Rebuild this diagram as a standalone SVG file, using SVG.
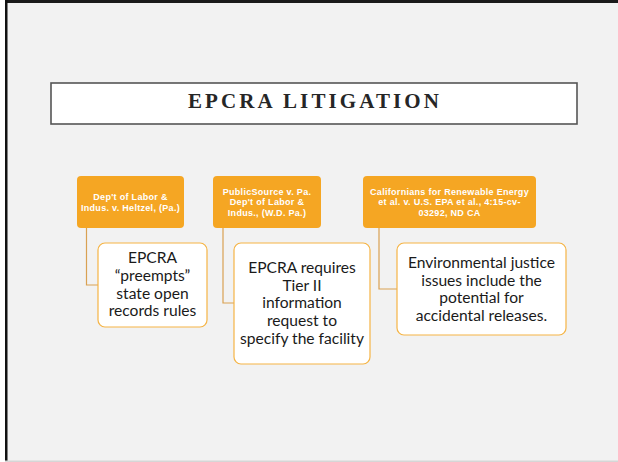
<svg xmlns="http://www.w3.org/2000/svg" width="618" height="462" viewBox="0 0 618 462">
  <style>
    .head { fill: #F5A623; }
    .head-t { font-family: "Liberation Sans", Arial, sans-serif; font-weight: bold; font-size: 9px; letter-spacing: 0.3px; fill: #ffffff; text-anchor: middle; }
    .card { fill: #ffffff; stroke: #F5B445; stroke-width: 1.2; }
    .card-t { font-family: Lato, "Open Sans", sans-serif; font-size: 15.6px; fill: #1a1a1a; text-anchor: middle; }
    .link { fill: none; stroke: #D9A152; stroke-width: 1.2; }
  </style>

  <!-- slide background and frame -->
  <rect x="0" y="0" width="618" height="462" fill="#ffffff"/>
  <rect x="5" y="0" width="613" height="462" fill="#f2f2f2"/>
  <rect x="5" y="0" width="613" height="3" fill="#1a1a1a"/>
  <rect x="5" y="0" width="2.5" height="462" fill="#111111"/>
  <rect x="5" y="460.5" width="613" height="1.5" fill="#d6d6d6"/>

  <!-- title -->
  <g id="title">
    <rect x="51" y="83" width="526" height="41" fill="#ffffff" stroke="#555555" stroke-width="1.6"/>
    <text x="315" y="108" font-family="'Liberation Serif', serif" font-weight="bold" font-size="21" letter-spacing="3.1" fill="#262626" text-anchor="middle">EPCRA LITIGATION</text>
  </g>

  <!-- connectors from each case header to its summary card -->
  <g id="connectors">
    <path class="link" d="M86.5,228 V285 H98"/>
    <path class="link" d="M223,228 V303 H234"/>
    <path class="link" d="M379,228 V289 H397"/>
  </g>

  <g id="case1">
    <rect class="head" x="77" y="176" width="107" height="52" rx="4"/>
    <text class="head-t" x="130.5" y="200">Dep't of Labor &amp;</text>
    <text class="head-t" x="130.5" y="211">Indus. v. Heltzel, (Pa.)</text>
  </g>
  <g id="summary1">
    <rect class="card" x="98" y="243" width="109" height="84" rx="7"/>
    <text class="card-t" x="152.5" y="263">EPCRA</text>
    <text class="card-t" x="152.5" y="281">“preempts”</text>
    <text class="card-t" x="152.5" y="298.5">state open</text>
    <text class="card-t" x="152.5" y="316">records rules</text>
  </g>

  <g id="case2">
    <rect class="head" x="213" y="176" width="108" height="52" rx="4"/>
    <text class="head-t" x="267" y="194.5">PublicSource v. Pa.</text>
    <text class="head-t" x="267" y="205">Dep't of Labor &amp;</text>
    <text class="head-t" x="267" y="215.5">Indus., (W.D. Pa.)</text>
  </g>
  <g id="summary2">
    <rect class="card" x="234" y="243" width="136" height="121" rx="7"/>
    <text class="card-t" x="302" y="273">EPCRA requires</text>
    <text class="card-t" x="302" y="290.5">Tier II</text>
    <text class="card-t" x="302" y="308">information</text>
    <text class="card-t" x="302" y="326">request to</text>
    <text class="card-t" x="302" y="344">specify the facility</text>
  </g>

  <g id="case3">
    <rect class="head" x="363" y="176" width="173" height="52" rx="4"/>
    <text class="head-t" x="449.5" y="194.5">Californians for Renewable Energy</text>
    <text class="head-t" x="449.5" y="205">et al. v. U.S. EPA et al., 4:15-cv-</text>
    <text class="head-t" x="449.5" y="215.5">03292, ND CA</text>
  </g>
  <g id="summary3">
    <rect class="card" x="397" y="243" width="169" height="92" rx="7"/>
    <text class="card-t" x="481.5" y="268">Environmental justice</text>
    <text class="card-t" x="481.5" y="285.5">issues include the</text>
    <text class="card-t" x="481.5" y="303">potential for</text>
    <text class="card-t" x="481.5" y="321">accidental releases.</text>
  </g>
</svg>
